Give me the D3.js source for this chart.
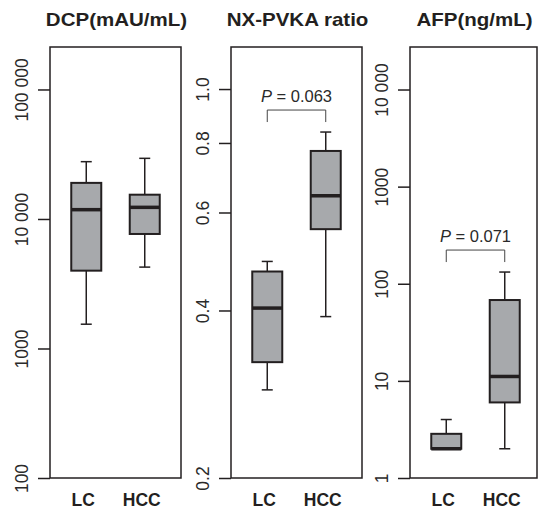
<!DOCTYPE html>
<html>
<head>
<meta charset="utf-8">
<script src="https://cdn.jsdelivr.net/npm/d3@7"></script>
<style>
    body { margin: 0; background: #fff; }
    svg { display: block; }
    text { font-family: "Liberation Sans", Arial, Helvetica, sans-serif; }
</style>
</head>
<body>
<svg id="chart"></svg>
<script>
// groups on the x axis
const groups = ["LC", "HCC"];

// box stats per group: [min, q1, median, q3, max]
const dcpStats = [[1540, 3990, 11800, 19000, 27700], [4250, 7660, 12300, 15400, 29400]];
const ratioStats = [[0.288, 0.323, 0.404, 0.470, 0.490], [0.390, 0.560, 0.643, 0.774, 0.837]];
const afpStats = [[2, 2, 2, 2.85, 4.0], [2.0, 6.0, 11.1, 68, 132]];

// axis ticks and labels
const dcpTicks = [100, 1000, 10000, 100000];
const dcpTickLabels = ["100", "1000", "10 000", "100 000"];
const ratioTicks = [0.2, 0.4, 0.6, 0.8, 1.0];
const ratioTickLabels = ["0.2", "0.4", "0.6", "0.8", "1.0"];
const afpTicks = [1, 10, 100, 1000, 10000];
const afpTickLabels = ["1", "10", "100", "1000", "10 000"];

const titles = ["DCP(mAU/mL)", "NX-PVKA ratio", "AFP(ng/mL)"];
const pValues = [null, "0.063", "0.071"];

class BoxPanel {
    top = 47;
    bottom = 478;
    boxWidth = 30;
    capWidth = 11;

    constructor(svg, opts) {
        this.svg = svg;
        Object.assign(this, opts);
    }

    draw() {
        const g = this.svg.append("g");

        this.xScale = d3.scalePoint()
            .domain(groups)
            .range([this.left, this.left + 131])
            .padding(0.62);
        this.yScale = d3.scaleLog()
            .domain(this.domain)
            .range([this.bottom, this.top]);

        // y axis with rotated labels
        const axis = g.append("g")
            .attr("transform", `translate(${this.left},0)`)
            .call(d3.axisLeft(this.yScale)
                .tickValues(this.ticks)
                .tickFormat((d, i) => this.tickLabels[i])
                .tickSize(12));
        axis.select(".domain").remove();
        axis.selectAll(".tick line").attr("stroke", "#231f20").attr("stroke-width", 1.5);
        axis.selectAll(".tick text")
            .attr("transform", "rotate(-90)")
            .attr("x", 0)
            .attr("y", -22)
            .attr("dy", 0)
            .attr("text-anchor", "middle")
            .attr("fill", "#2a2a2a")
            .style("font-size", "17.5px")
            .style("font-family", '"Liberation Sans", Arial, sans-serif');

        // frame
        g.append("rect")
            .attr("x", this.left)
            .attr("y", this.top)
            .attr("width", this.frameWidth)
            .attr("height", this.bottom - this.top)
            .attr("fill", "none")
            .attr("stroke", "#231f20")
            .attr("stroke-width", 1.5);

        const rows = groups.map((k, i) => ({ key: k, s: this.stats[i] }));
        const boxes = g.selectAll(".box").data(rows).enter().append("g").attr("class", "box");
        const x = d => this.xScale(d.key);
        const y = this.yScale;

        boxes.append("line")
            .attr("x1", x).attr("x2", x)
            .attr("y1", d => y(d.s[0])).attr("y2", d => y(d.s[4]))
            .attr("stroke", "#231f20").attr("stroke-width", 1.5);
        boxes.selectAll(".cap").data(d => [[d, d.s[0]], [d, d.s[4]]]).enter().append("line")
            .attr("x1", d => x(d[0]) - this.capWidth / 2)
            .attr("x2", d => x(d[0]) + this.capWidth / 2)
            .attr("y1", d => y(d[1])).attr("y2", d => y(d[1]))
            .attr("stroke", "#231f20").attr("stroke-width", 1.5);
        boxes.append("rect")
            .attr("x", d => x(d) - this.boxWidth / 2)
            .attr("y", d => y(d.s[3]))
            .attr("width", this.boxWidth)
            .attr("height", d => y(d.s[1]) - y(d.s[3]))
            .attr("fill", "#a7a9ac")
            .attr("stroke", "#231f20")
            .attr("stroke-width", 2);
        boxes.append("line")
            .attr("x1", d => x(d) - this.boxWidth / 2)
            .attr("x2", d => x(d) + this.boxWidth / 2)
            .attr("y1", d => y(d.s[2])).attr("y2", d => y(d.s[2]))
            .attr("stroke", "#231f20").attr("stroke-width", 3.5);

        // group labels
        g.selectAll(".grp").data(groups).enter().append("text")
            .attr("x", d => this.xScale(d) - 3)
            .attr("y", 506)
            .attr("text-anchor", "middle")
            .attr("font-weight", "bold")
            .attr("font-size", 17.5)
            .attr("fill", "#231f20")
            .text(d => d);

        // title
        g.append("text")
            .attr("transform", `translate(${this.left + this.frameWidth / 2 + 1},26) scale(1.14,1)`)
            .attr("text-anchor", "middle")
            .attr("font-weight", "bold")
            .attr("font-size", 18)
            .attr("fill", "#231f20")
            .text(this.title);

        // p value bracket
        if (this.p) {
            const x1 = this.xScale(groups[0]), x2 = this.xScale(groups[1]);
            const top = d3.min(this.stats, s => y(s[4])) - 22;
            g.append("path")
                .attr("d", `M${x1},${top + 12}V${top}H${x2}V${top + 12}`)
                .attr("fill", "none")
                .attr("stroke", "#444")
                .attr("stroke-width", 1);
            const t = g.append("text")
                .attr("x", (x1 + x2) / 2)
                .attr("y", top - 8)
                .attr("text-anchor", "middle")
                .attr("font-size", 16.5)
                .attr("fill", "#2a2a2a");
            t.append("tspan").attr("font-style", "italic").text("P");
            t.append("tspan").text(" = " + this.p);
        }
    }
}

const svg = d3.select("#chart").attr("width", 538).attr("height", 509);

new BoxPanel(svg, {
    left: 50, frameWidth: 131, stats: dcpStats, domain: [100, 212800],
    ticks: dcpTicks, tickLabels: dcpTickLabels, title: titles[0], p: pValues[0]
}).draw();
new BoxPanel(svg, {
    left: 231, frameWidth: 131, stats: ratioStats, domain: [0.2, 1.19],
    ticks: ratioTicks, tickLabels: ratioTickLabels, title: titles[1], p: pValues[1]
}).draw();
new BoxPanel(svg, {
    left: 410, frameWidth: 127, stats: afpStats, domain: [1, 27400],
    ticks: afpTicks, tickLabels: afpTickLabels, title: titles[2], p: pValues[2]
}).draw();
</script>
</body>
</html>
